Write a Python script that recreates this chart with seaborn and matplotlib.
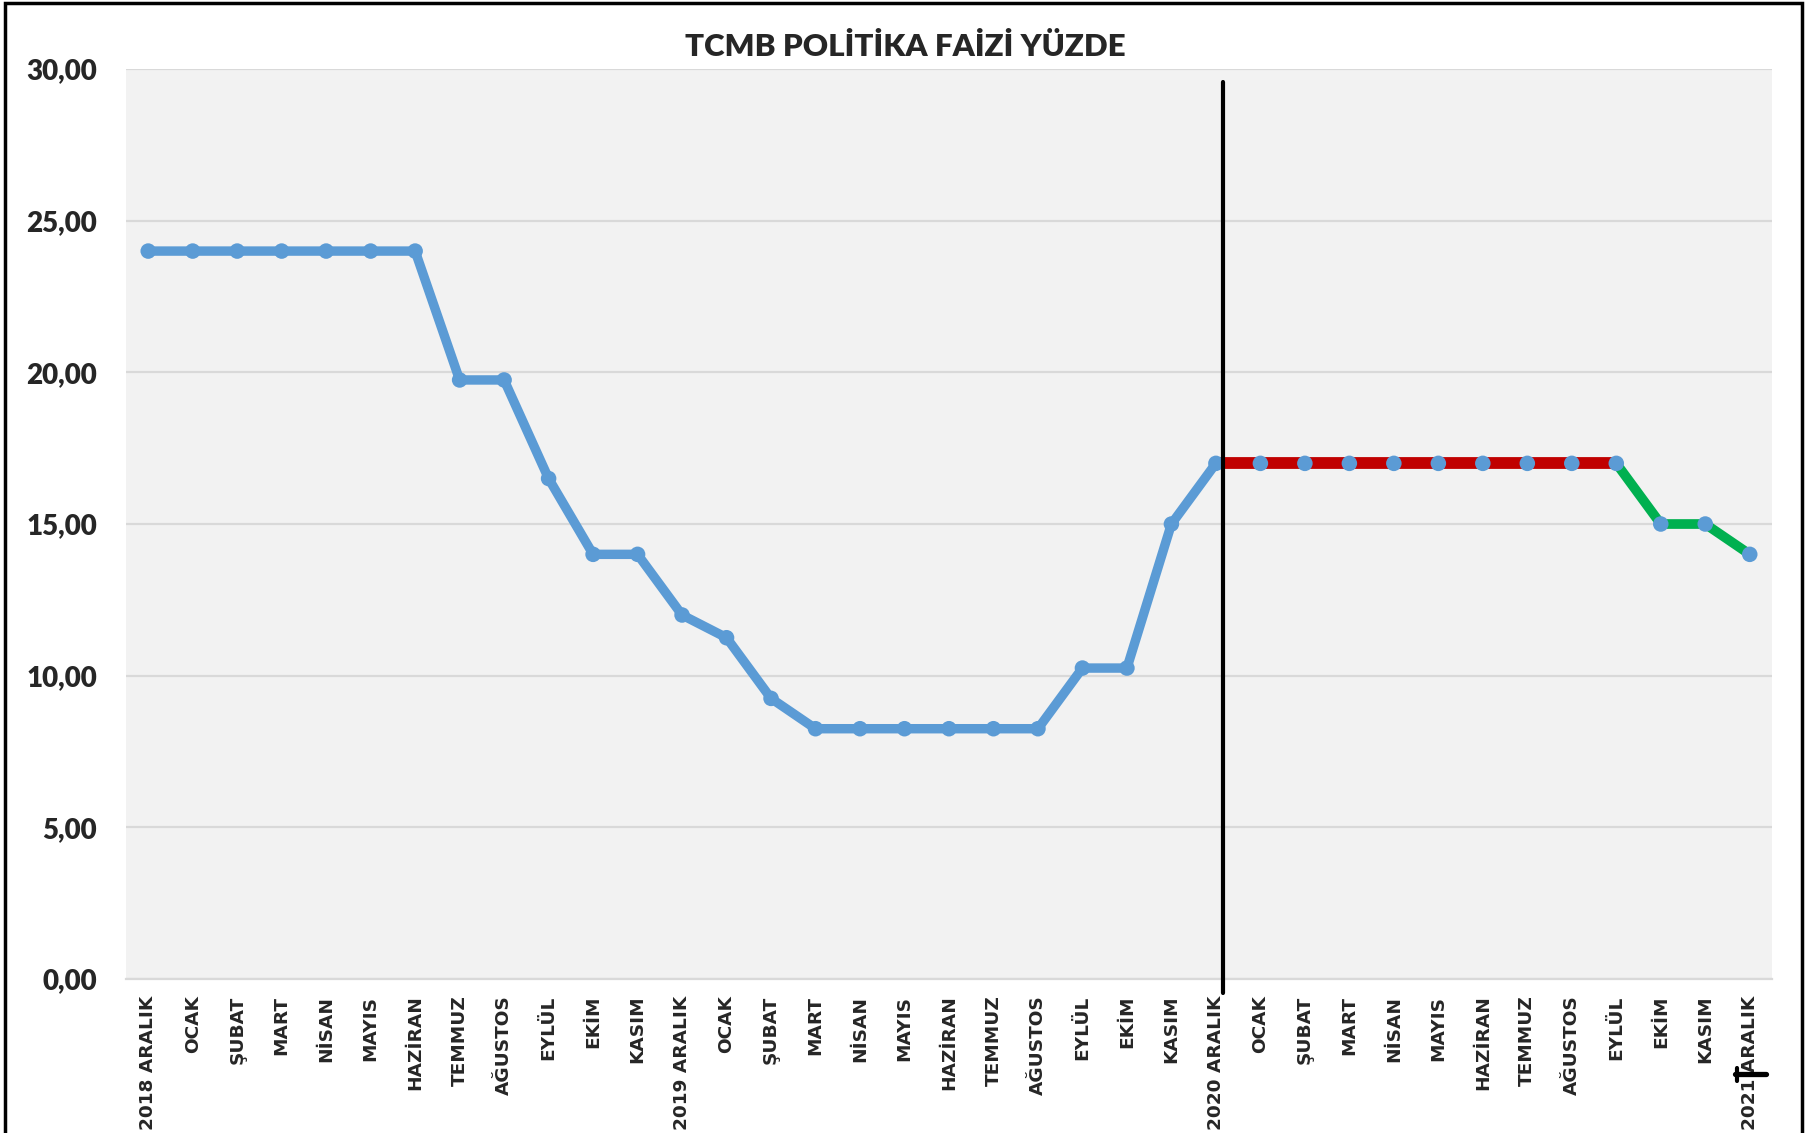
import numpy as np
import pandas as pd
import matplotlib.pyplot as plt
import seaborn as sns
from matplotlib.patches import Rectangle
from matplotlib.lines import Line2D

# month labels on the x axis
labels = ['2018 ARALIK', 'OCAK', 'ŞUBAT', 'MART', 'NİSAN', 'MAYIS', 'HAZİRAN',
          'TEMMUZ', 'AĞUSTOS', 'EYLÜL', 'EKİM', 'KASIM',
          '2019 ARALIK', 'OCAK', 'ŞUBAT', 'MART', 'NİSAN', 'MAYIS', 'HAZİRAN',
          'TEMMUZ', 'AĞUSTOS', 'EYLÜL', 'EKİM', 'KASIM',
          '2020 ARALIK', 'OCAK', 'ŞUBAT', 'MART', 'NİSAN', 'MAYIS', 'HAZİRAN',
          'TEMMUZ', 'AĞUSTOS', 'EYLÜL', 'EKİM', 'KASIM',
          '2021 ARALIK']

# policy rate (%)
rate = [24, 24, 24, 24, 24, 24, 24,
        19.75, 19.75, 16.5, 14, 14,
        12, 11.25, 9.25, 8.25, 8.25, 8.25, 8.25, 8.25, 8.25,
        10.25, 10.25, 15,
        17, 17, 17, 17, 17, 17, 17, 17, 17, 17,
        15, 15, 14]

# segment boundaries (index of point)
blue_end = 24
red_end = 33

yticks = [0, 5, 10, 15, 20, 25, 30]
ytick_labels = ['0,00', '5,00', '10,00', '15,00', '20,00', '25,00', '30,00']

df = pd.DataFrame({'idx': np.arange(len(rate)), 'rate': rate})

sns.set_style('white')
plt.rcParams['font.family'] = ['DejaVu Sans']

fig = plt.figure(figsize=(18.1, 11.33), dpi=100)
ax = fig.add_axes([0.0696, 0.136, 0.9094, 0.803])
ax.set_facecolor('#F2F2F2')

sns.lineplot(data=df[df.idx <= blue_end], x='idx', y='rate', ax=ax,
             color='#5B9BD5', linewidth=6.8, zorder=3)
sns.lineplot(data=df[(df.idx >= blue_end) & (df.idx <= red_end)], x='idx', y='rate', ax=ax,
             color='#C00000', linewidth=8.5, zorder=3)
sns.lineplot(data=df[df.idx >= red_end], x='idx', y='rate', ax=ax,
             color='#00B050', linewidth=7, zorder=3)
sns.scatterplot(data=df, x='idx', y='rate', ax=ax, color='#5B9BD5',
                s=125, edgecolor='none', zorder=4)

# divider line after 2020 ARALIK
ax.axvline(blue_end + 0.16, ymin=-0.015, ymax=0.986, color='black',
           linewidth=3, clip_on=False, zorder=5)

ax.set_xlim(-0.5, len(rate) - 0.5)
ax.set_ylim(0, 30)
ax.set_yticks(yticks)
ax.set_yticklabels(ytick_labels, fontsize=20, fontweight='heavy', family=['Lato', 'DejaVu Sans'])
ax.set_xticks(df.idx)
ax.set_xticklabels(labels, rotation=90, fontsize=13.3, fontweight='bold')
ax.tick_params(axis='y', length=0, pad=21)
ax.tick_params(axis='x', length=0, pad=12)
ax.grid(axis='y', color='#D9D9D9', linewidth=1.6)
ax.set_axisbelow(True)
for side in ['left', 'right', 'top']:
    ax.spines[side].set_visible(False)
ax.spines['bottom'].set_color('#D9D9D9')
ax.spines['bottom'].set_linewidth(1.6)
ax.set_xlabel('')
ax.set_ylabel('')

fig.text(0.5, 1 - 47 / 1133, 'TCMB POLİTİKA FAİZİ YÜZDE', ha='center', va='center',
         fontsize=22.5, fontweight='heavy', family=['Lato', 'DejaVu Sans'])

# black mark over last label
fig.add_artist(Line2D([1735 / 1810, 1766 / 1810], [1 - 1074 / 1133, 1 - 1074 / 1133],
                      color='black', linewidth=3.8, zorder=10))
fig.add_artist(Line2D([1736.5 / 1810, 1736.5 / 1810], [1 - 1068 / 1133, 1 - 1081 / 1133],
                      color='black', linewidth=3, zorder=10))

# outer frame
fig.patches.append(Rectangle((5 / 1810, -0.01), 1797 / 1810, 1.01 - 3 / 1133,
                             transform=fig.transFigure, fill=False,
                             edgecolor='black', linewidth=2.5))

fig.savefig('out.png', dpi=100)
